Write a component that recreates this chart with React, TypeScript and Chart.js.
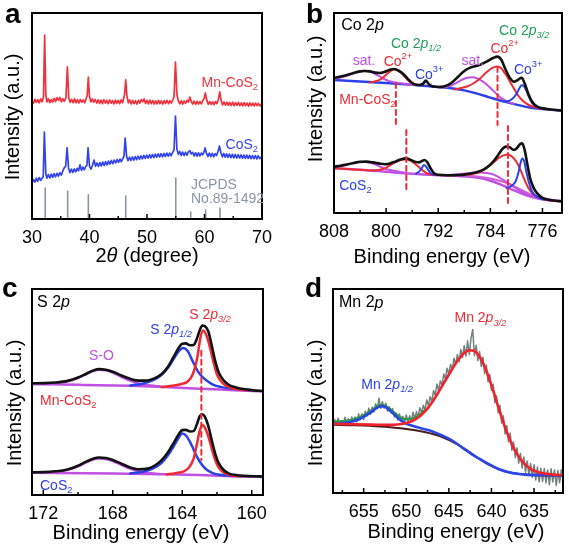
import React, { useEffect, useRef } from 'react';
import { Chart, registerables } from 'chart.js';
Chart.register(...registerables);

type P = [number, number];
type Part = [string, string];

// ---------- Panel a: XRD ----------
const aTicks = [30, 40, 50, 60, 70];
const aMinor = [35, 45, 55, 65];
const xrdMn: P[] = [
  [30.0, 57.5], [30.25, 56.2], [30.5, 58.1], [30.75, 56.6], [31.0, 57.9], [31.25, 56.4], [31.5, 58.3], [31.75, 56.9], [32.0, 59.5], [32.2, 89.3],
  [32.4, 60.0], [32.6, 56.8], [32.85, 58.4], [33.1, 56.5], [33.35, 58.0], [33.6, 56.7], [33.85, 58.6], [34.1, 57.0], [34.35, 58.9], [34.6, 57.6],
  [34.85, 59.0], [35.1, 56.9], [35.35, 58.4], [35.6, 57.1], [35.9, 58.8], [36.15, 73.8], [36.4, 58.6], [36.65, 56.6], [36.9, 58.1], [37.15, 56.5],
  [37.4, 58.3], [37.65, 56.4], [37.9, 57.9], [38.15, 56.3], [38.4, 58.0], [38.65, 56.7], [38.9, 57.8], [39.15, 56.4], [39.4, 58.2], [39.6, 60.0],
  [39.8, 68.9], [40.0, 59.5], [40.25, 56.8], [40.5, 58.3], [40.75, 56.7], [41.0, 58.0], [41.25, 56.3], [41.5, 57.8], [41.75, 56.1], [42.0, 57.7],
  [42.25, 56.0], [42.5, 57.9], [42.75, 56.3], [43.0, 57.6], [43.25, 56.0], [43.5, 57.8], [43.75, 56.2], [44.0, 57.5], [44.25, 55.9], [44.5, 57.7],
  [44.75, 56.1], [45.0, 57.6], [45.25, 56.0], [45.5, 57.8], [45.75, 56.4], [46.1, 60.5], [46.3, 67.5], [46.5, 60.0], [46.75, 56.4], [47.0, 57.8],
  [47.25, 55.9], [47.5, 57.6], [47.75, 56.0], [48.0, 57.4], [48.25, 55.8], [48.5, 57.6], [48.75, 56.2], [49.0, 58.0], [49.25, 56.9], [49.5, 58.3],
  [49.75, 56.1], [50.0, 57.6], [50.25, 55.9], [50.5, 57.7], [50.75, 56.0], [51.0, 57.5], [51.25, 55.8], [51.5, 57.4], [51.75, 55.9], [52.0, 57.6],
  [52.25, 56.0], [52.5, 57.3], [52.75, 55.8], [53.0, 57.5], [53.25, 56.1], [53.5, 57.6], [53.75, 56.0], [54.0, 57.4], [54.25, 56.3], [54.5, 57.9],
  [54.7, 59.5], [54.95, 76.2], [55.2, 60.5], [55.45, 57.3], [55.7, 55.9], [55.95, 57.4], [56.2, 55.8], [56.45, 57.3], [56.7, 56.1], [56.95, 57.6],
  [57.2, 56.8], [57.45, 59.2], [57.7, 57.0], [57.95, 55.8], [58.2, 57.2], [58.45, 55.7], [58.7, 57.1], [58.95, 55.8], [59.2, 57.0], [59.45, 55.9],
  [59.7, 57.4], [59.95, 58.6], [60.15, 61.2], [60.4, 57.6], [60.65, 55.7], [60.9, 57.0], [61.15, 55.6], [61.4, 56.9], [61.65, 55.5], [61.9, 57.0],
  [62.15, 56.0], [62.4, 58.0], [62.65, 61.7], [62.9, 57.4], [63.15, 55.4], [63.4, 56.8], [63.65, 55.3], [63.9, 56.7], [64.15, 55.2], [64.4, 56.6],
  [64.65, 55.1], [64.9, 56.7], [65.15, 55.0], [65.4, 56.5], [65.65, 55.2], [65.9, 56.6], [66.15, 55.0], [66.4, 56.4], [66.65, 54.9], [66.9, 56.5],
  [67.15, 55.0], [67.4, 56.3], [67.65, 54.8], [67.9, 56.4], [68.15, 55.0], [68.4, 56.2], [68.65, 54.9], [68.9, 56.3], [69.15, 55.0], [69.4, 56.1],
  [69.65, 54.9], [70.0, 56.0],
];
const xrdCo: P[] = [
  [30.0, 17.5], [30.25, 19.2], [30.5, 17.9], [30.75, 19.8], [31.0, 18.3], [31.25, 20.1], [31.5, 18.7], [31.75, 20.0], [31.95, 20.5], [32.15, 42.2],
  [32.4, 22.0], [32.6, 19.8], [32.85, 21.6], [33.1, 19.9], [33.35, 21.8], [33.6, 20.2], [33.85, 22.0], [34.1, 20.5], [34.35, 22.2], [34.6, 20.8],
  [34.85, 22.5], [35.1, 21.3], [35.35, 23.2], [35.6, 24.8], [35.85, 25.5], [36.1, 34.5], [36.35, 24.8], [36.6, 22.5], [36.85, 24.2], [37.1, 22.6],
  [37.35, 24.3], [37.6, 22.9], [37.85, 24.6], [38.1, 23.4], [38.35, 26.3], [38.6, 23.6], [38.85, 25.2], [39.1, 23.9], [39.35, 25.5], [39.55, 26.0],
  [39.75, 34.6], [40.0, 25.6], [40.25, 24.2], [40.5, 26.0], [40.8, 28.6], [41.05, 25.6], [41.3, 27.2], [41.55, 25.5], [41.8, 27.4], [42.05, 25.8],
  [42.3, 27.6], [42.55, 26.0], [42.8, 27.9], [43.05, 26.3], [43.3, 28.1], [43.55, 26.6], [43.8, 28.4], [44.05, 26.9], [44.3, 28.6], [44.55, 27.2],
  [44.8, 28.9], [45.05, 27.5], [45.3, 29.1], [45.55, 27.8], [45.8, 29.4], [46.0, 30.5], [46.2, 39.3], [46.45, 30.4], [46.7, 28.3], [46.95, 30.0],
  [47.2, 28.4], [47.45, 30.1], [47.7, 28.6], [47.95, 30.3], [48.2, 28.8], [48.45, 30.5], [48.7, 29.0], [48.95, 30.7], [49.2, 29.2], [49.45, 30.9],
  [49.7, 29.4], [49.95, 31.0], [50.2, 29.5], [50.45, 31.2], [50.7, 29.7], [50.95, 31.3], [51.2, 29.8], [51.45, 31.5], [51.7, 30.0], [51.95, 31.6],
  [52.2, 30.1], [52.45, 31.7], [52.7, 30.2], [52.95, 31.8], [53.2, 30.4], [53.45, 32.0], [53.7, 30.5], [53.95, 32.0], [54.2, 30.7], [54.45, 32.2],
  [54.7, 33.5], [54.95, 50.0], [55.2, 34.0], [55.45, 31.4], [55.7, 32.8], [55.95, 30.9], [56.2, 32.5], [56.45, 30.8], [56.7, 32.4], [56.95, 31.0],
  [57.2, 32.6], [57.45, 33.2], [57.7, 31.6], [57.95, 32.3], [58.2, 30.6], [58.45, 32.2], [58.7, 30.5], [58.95, 32.1], [59.2, 30.6], [59.45, 32.0],
  [59.7, 31.2], [59.95, 32.8], [60.1, 34.5], [60.35, 31.8], [60.6, 30.4], [60.85, 32.0], [61.1, 30.3], [61.35, 31.9], [61.6, 30.2], [61.85, 31.7],
  [62.1, 30.8], [62.35, 32.8], [62.6, 35.4], [62.85, 32.3], [63.1, 30.2], [63.35, 31.8], [63.6, 30.0], [63.85, 31.6], [64.1, 29.9], [64.35, 31.5],
  [64.6, 29.8], [64.85, 31.4], [65.1, 29.7], [65.35, 31.3], [65.6, 29.6], [65.85, 31.2], [66.1, 29.6], [66.35, 31.1], [66.6, 29.5], [66.85, 31.0],
  [67.1, 29.4], [67.35, 31.0], [67.6, 29.4], [67.85, 30.9], [68.1, 29.3], [68.35, 30.8], [68.6, 29.3], [68.85, 30.8], [69.1, 29.2], [69.35, 30.7],
  [69.6, 29.3], [70.0, 30.4],
];
const jcpdsPos = [32.3, 36.2, 39.8, 46.3, 55.0, 57.6, 60.2, 62.7];
const jcpdsH = [15.0, 13.6, 11.7, 11.2, 19.9, 3.4, 4.4, 5.3];

// ---------- Panel b: Co 2p ----------
const bTicks = [808, 800, 792, 784, 776];
const bMinor = [804, 796, 788, 780];
const bTopEnv: P[] = [
  [808, 67.5], [807, 68.2], [806, 69], [805, 70], [804, 70.8], [803.3, 71], [802.5, 70.8], [801.7, 70.2], [801, 70], [800.3, 70.5],
  [799.5, 71.5], [798.8, 72], [798, 71], [797.2, 69], [796.5, 66.5], [795.8, 64.6], [795, 64], [794.4, 64.4], [793.9, 66.2], [793.4, 64.3],
  [792.8, 63.2], [792, 63], [791, 63.4], [790, 65], [789, 68], [788, 71], [787, 72.8], [786.2, 73.5], [785.5, 74.2], [784.5, 75.8],
  [783.5, 77.6], [782.9, 78.2], [782.3, 76.5], [781.7, 72], [781, 67.5], [780.4, 65.7], [779.8, 66.5], [779.2, 67.6], [778.7, 64.5], [778.1, 59],
  [777.5, 55.2], [776.8, 53.2], [776, 52.4], [775, 51.9], [774, 51.5], [773, 51.2],
];
const bTopBg: P[] = [
  [808, 66.5], [804, 65.8], [800, 65], [796, 64.1], [792, 63], [790, 62.4], [788, 61.3], [786, 59.7], [784, 57.7], [782, 55.8],
  [780, 54.2], [778, 52.8], [776, 52], [773, 51.2],
];
const bTopSat1: P[] = [
  [808, 67], [807, 67.7], [806, 68.7], [805, 69.8], [804, 70.8], [803.3, 71.1], [802.5, 70.7], [801.7, 69.6], [801, 68.3], [800.3, 67],
  [799.5, 65.9], [798.5, 65.2], [797.5, 64.7], [796.5, 64.3], [795.5, 64],
];
const bTopCo2a: P[] = [
  [802.5, 65.3], [801.7, 65.8], [801, 66.6], [800.3, 68.2], [799.6, 70.3], [799, 71.6], [798.7, 71.9], [798.2, 71.4], [797.6, 69.8], [797, 67.6],
  [796.4, 65.7], [795.8, 64.6], [795, 64],
];
const bTopCo3a: P[] = [
  [795.2, 63.9], [794.6, 64.3], [794.2, 65.1], [793.9, 65.6], [793.6, 65.0], [793.2, 63.9], [792.7, 63.2],
];
const bTopSat2: P[] = [
  [791.5, 62.7], [790.5, 63.2], [789.5, 64.6], [788.5, 66.4], [787.7, 67.5], [786.8, 67.9], [786, 67.3], [785.2, 65.8], [784.4, 63.8], [783.6, 61.3],
  [782.8, 58.8], [782, 56.8], [781.2, 55.4], [780.4, 54.6],
];
const bTopCo2b: P[] = [
  [789.5, 61.8], [788.5, 62.5], [787.5, 63.4], [786.5, 65], [785.5, 67.5], [784.6, 70.4], [783.7, 72.6], [783, 73.3], [782.4, 72.6], [781.7, 69.6],
  [781, 65.8], [780.3, 61.8], [779.6, 58.2], [778.9, 55.8], [778.1, 54], [777.3, 53], [776.3, 52.3], [775.3, 52],
];
const bTopCo3b: P[] = [
  [782, 55.8], [781.2, 56], [780.5, 57.5], [780, 59.5], [779.6, 62], [779.2, 63.9], [778.9, 63.6], [778.5, 61.5], [778.1, 58.2], [777.6, 55],
  [777, 53.2], [776.2, 52.4], [775.3, 52],
];
const bBotEnv: P[] = [
  [808, 23.2], [807, 23.6], [806, 24.3], [805, 25], [804, 25.6], [803, 25.7], [802, 25.3], [801, 24.7], [800.2, 24.4], [799.4, 24.8],
  [798.6, 25.7], [797.8, 26.7], [797, 27.3], [796.3, 26.7], [795.6, 25.6], [795, 25.3], [794.5, 26], [794.1, 26.5], [793.7, 25.5], [793.2, 22.5],
  [792.6, 19.7], [792, 19.1], [790.5, 18.9], [789, 19], [788, 19.2], [787, 19.7], [786, 20.5], [785, 21.8], [784.2, 23.6], [783.5, 26],
  [782.8, 29], [782.2, 31.8], [781.6, 33.2], [781, 32.8], [780.4, 31.5], [779.9, 32.5], [779.4, 34.6], [779.1, 34.8], [778.7, 31], [778.3, 24],
  [777.9, 17.5], [777.4, 12.8], [776.8, 9.8], [776, 7.6], [775, 6.6], [774, 6.1], [773, 5.9],
];
const bBotBg1: P[] = [
  [808, 22.4], [804, 21.6], [800, 20.6], [796, 19.6], [792, 18.9], [789, 18.5], [787, 18.1], [785, 17.1], [783, 15], [781, 12.2],
  [779, 9.5], [777, 7.5], [775, 6.4], [773, 5.9],
];
const bBotBg2: P[] = [
  [790, 18.9], [788, 18.8], [786, 18.3], [784, 17.3], [782, 15.6], [780, 12.8], [778, 9.6], [776, 7.4], [774, 6.3], [773, 6],
];
const bBotSat1: P[] = [
  [808, 23], [807, 23.5], [806, 24.2], [805, 24.9], [804, 25.4], [803.2, 25.5], [802.4, 25.1], [801.6, 24.2], [800.8, 23], [800, 22],
  [799, 21.2], [798, 20.6], [797, 20.1],
];
const bBotCo2a: P[] = [
  [808, 22.4], [806, 22], [804, 21.6], [802.5, 21.3], [801.5, 21.4], [800.5, 22], [799.7, 23.2], [798.9, 24.8], [798.1, 26.1], [797.3, 26.8],
  [796.8, 26.8], [796.2, 26.1], [795.5, 24.4], [794.8, 22.4], [794.1, 20.6], [793.4, 19.5], [792.6, 19],
];
const bBotCo3a: P[] = [
  [795.4, 19.7], [794.9, 20.8], [794.5, 22.6], [794.2, 24], [793.9, 23.4], [793.5, 21.4], [793.1, 19.8], [792.6, 19.1],
];
const bBotSat2: P[] = [
  [791.5, 18.9], [790, 19.1], [788.5, 19.5], [787, 20], [785.5, 20.3], [784.5, 20], [783.5, 19.2], [782.5, 17.5], [781.5, 15.5], [780.5, 13.3],
  [779.5, 11.2], [778.5, 9.5], [777.5, 8.2], [776.5, 7.2], [775, 6.4], [773, 5.9],
];
const bBotCo2b: P[] = [
  [791, 18.8], [789, 18.9], [787.5, 19.2], [786.2, 19.8], [785.2, 21.2], [784.3, 23.2], [783.5, 25.3], [782.7, 27.5], [782, 28.8], [781.3, 29.2],
  [780.7, 28.3], [780, 25.6], [779.4, 21.7], [778.8, 17], [778.2, 12.8], [777.6, 10], [777, 8.4], [776.2, 7.2], [775.3, 6.5], [774, 6],
];
const bBotCo3b: P[] = [
  [781.5, 12.5], [780.7, 13.6], [780.1, 16], [779.7, 20], [779.4, 24.5], [779.1, 27.2], [778.8, 25.8], [778.5, 21], [778.1, 15.5], [777.7, 11.5],
  [777.2, 9], [776.5, 7.5], [775.5, 6.6],
];
// dashed guides: [energy, from, to]
const bDashes: [number, number, number][] = [
  [798.5, 65, 43], [782.9, 73, 44], [796.9, 41.5, 10.7], [781.3, 43.5, 4.8],
];

// ---------- Panel c: S 2p ----------
const cTicks = [172, 168, 164, 160];
const cMinor = [170, 166, 162];
const cTopEnv: P[] = [
  [172.65, 54.2], [172, 54.3], [171.3, 54.6], [170.6, 55.4], [170, 57], [169.5, 59], [169.1, 60.5], [168.8, 61.1], [168.4, 60.8], [168, 59.8],
  [167.5, 58], [167, 56.4], [166.5, 55.5], [166, 55.6], [165.6, 56.6], [165.2, 58.6], [164.8, 62.5], [164.5, 67], [164.2, 71.5], [164, 73.4],
  [163.8, 73.6], [163.55, 72.7], [163.35, 72.8], [163.15, 76], [163, 79.8], [162.85, 82.3], [162.7, 82], [162.5, 79.5], [162.3, 72.5], [162.1, 65],
  [161.9, 59.5], [161.6, 55.5], [161.3, 53.4], [160.9, 52.2], [160.4, 51.3], [159.9, 50.8], [159.35, 50.5],
];
const cTopBg: P[] = [[172.65, 53.8], [170, 53.5], [167, 53], [165, 52.4], [163, 51.6], [161, 50.9], [159.35, 50.3]];
const cTopSO: P[] = [
  [171.8, 53.9], [171.2, 54.3], [170.6, 55.2], [170, 56.8], [169.5, 58.8], [169.1, 60.3], [168.8, 60.8], [168.4, 60.5], [168, 59.4], [167.5, 57.4],
  [167, 55.5], [166.5, 54.1], [166, 53.3], [165.3, 52.8],
];
const cTopS12: P[] = [
  [167, 53.1], [166.3, 54], [165.7, 55.6], [165.2, 58.2], [164.8, 62], [164.5, 66], [164.2, 69.8], [163.95, 71.3], [163.7, 70], [163.4, 65],
  [163.1, 60], [162.8, 57], [162.5, 55], [162.2, 53.5], [161.8, 52.5], [161.3, 51.8], [160.7, 51.3], [160, 51],
];
const cTopS32: P[] = [
  [165.2, 52.4], [164.6, 53], [164.1, 53.8], [163.7, 55], [163.4, 58.5], [163.15, 66], [162.95, 76.5], [162.8, 79.8], [162.6, 77.3], [162.4, 71.5],
  [162.2, 64.5], [162, 58.5], [161.7, 54.5], [161.3, 52.3], [160.8, 51.3], [160.2, 50.8],
];
const cBotEnv: P[] = [
  [172.65, 11], [172, 11.1], [171.3, 11.5], [170.6, 12.4], [170, 14.2], [169.5, 16.3], [169.1, 17.7], [168.8, 18.2], [168.4, 18], [168, 17],
  [167.5, 15.2], [167, 13.4], [166.5, 12.5], [166, 12.8], [165.6, 14.2], [165.2, 16.8], [164.8, 21], [164.5, 25.2], [164.2, 29.5], [164, 31.5],
  [163.8, 31.6], [163.55, 30.8], [163.35, 31], [163.15, 34.5], [163, 38.2], [162.85, 39.2], [162.7, 38], [162.5, 33.5], [162.3, 26.5], [162.1, 20],
  [161.9, 15.5], [161.6, 12], [161.3, 10.4], [160.9, 9.7], [160.4, 9.3], [159.9, 9.1], [159.35, 9],
];
const cBotBg: P[] = [[172.65, 10.8], [168, 10.4], [165, 10.1], [163, 9.7], [161, 9.1], [159.35, 8.7]];
const cBotSO: P[] = [
  [171.8, 10.9], [171.2, 11.3], [170.6, 12.2], [170, 13.9], [169.5, 16], [169.1, 17.3], [168.8, 17.7], [168.4, 17.5], [168, 16.5], [167.5, 14.6],
  [167, 12.8], [166.5, 11.5], [166, 10.7], [165.3, 10.2],
];
const cBotS12: P[] = [
  [167, 10.4], [166.3, 11.2], [165.7, 12.8], [165.2, 15.5], [164.8, 19.5], [164.5, 23.5], [164.2, 27.8], [164, 29.8], [163.75, 28.5], [163.45, 24],
  [163.15, 18.5], [162.85, 14.5], [162.55, 12], [162.2, 10.5], [161.8, 9.8], [161.3, 9.4], [160.5, 9.1],
];
const cBotS32: P[] = [
  [164.9, 10], [164.4, 10.6], [163.9, 11.5], [163.6, 13.5], [163.35, 17.5], [163.15, 25], [163, 31], [162.85, 34], [162.7, 32.8], [162.5, 28.5],
  [162.3, 22.5], [162.1, 17], [161.9, 13.3], [161.6, 10.8], [161.2, 9.6], [160.6, 9.1],
];
const cDashes: [number, number, number][] = [[162.9, 70, 17]];

// ---------- Panel d: Mn 2p ----------
const dTicks = [655, 650, 645, 640, 635];
const dMinor = [657.5, 652.5, 647.5, 642.5, 637.5, 632.5];
const dRaw: P[] = [
  [658.6, 33.0], [658.4, 36.0], [658.2, 33.7], [658.0, 36.6], [657.8, 33.7], [657.6, 35.5], [657.4, 33.4], [657.2, 37.1], [657.0, 34.3], [656.8, 36.4],
  [656.6, 33.8], [656.4, 37.3], [656.2, 34.9], [656.0, 37.3], [655.8, 34.8], [655.6, 38.8], [655.4, 36.0], [655.2, 38.7], [655.0, 36.0], [654.8, 40.1],
  [654.6, 37.8], [654.4, 41.6], [654.2, 38.6], [654.0, 42.1], [653.8, 39.7], [653.6, 43.7], [653.4, 41.5], [653.2, 46.5], [653.0, 41.5], [652.8, 44.8],
  [652.6, 41.7], [652.4, 44.0], [652.2, 40.1], [652.0, 42.3], [651.8, 39.2], [651.6, 41.4], [651.4, 37.2], [651.2, 39.2], [651.0, 35.8], [650.8, 38.8],
  [650.6, 35.2], [650.4, 37.6], [650.2, 34.6], [650.0, 38.3], [649.8, 35.1], [649.6, 37.9], [649.4, 35.2], [649.2, 39.6], [649.0, 36.4], [648.8, 39.9],
  [648.6, 37.2], [648.4, 41.8], [648.2, 39.2], [648.0, 43.0], [647.8, 40.6], [647.6, 45.6], [647.4, 42.9], [647.2, 47.2], [647.0, 44.8], [646.8, 50.2],
  [646.6, 47.9], [646.4, 53.4], [646.2, 50.4], [646.0, 55.0], [645.8, 52.6], [645.6, 58.3], [645.4, 55.9], [645.2, 61.2], [645.0, 58.0], [644.8, 63.1],
  [644.6, 60.3], [644.4, 66.1], [644.2, 63.0], [644.0, 67.9], [643.8, 64.3], [643.6, 70.4], [643.4, 66.4], [643.2, 72.2], [643.0, 67.1], [642.8, 74.6],
  [642.6, 67.9], [642.4, 75.7], [642.2, 80.2], [642.0, 67.3], [641.8, 72.4], [641.6, 64.9], [641.4, 69.4], [641.2, 62.0], [641.0, 66.6], [640.8, 58.6],
  [640.6, 62.8], [640.4, 54.5], [640.2, 58.1], [640.0, 50.4], [639.8, 53.3], [639.6, 44.3], [639.4, 47.5], [639.2, 39.3], [639.0, 42.9], [638.8, 34.3],
  [638.6, 37.8], [638.4, 28.9], [638.2, 33.0], [638.0, 25.1], [637.8, 29.3], [637.6, 20.9], [637.4, 25.0], [637.2, 17.3], [637.0, 22.2], [636.8, 14.6],
  [636.6, 19.4], [636.4, 12.2], [636.2, 17.7], [636.0, 10.2], [635.8, 15.7], [635.6, 8.6], [635.4, 14.4], [635.2, 7.7], [635.0, 13.8], [634.8, 6.4],
  [634.6, 12.7], [634.4, 5.4], [634.2, 12.1], [634.0, 5.7], [633.8, 12.0], [633.6, 4.9], [633.4, 11.3], [633.2, 4.1], [633.0, 11.9], [632.8, 5.4],
  [632.6, 11.3], [632.4, 3.7], [632.2, 11.0], [632.0, 5.0], [631.8, 11.4], [631.6, 6.8],
];
const dBg: P[] = [
  [658.6, 33.4], [656, 33.2], [653, 32.6], [650, 31.4], [648, 30], [646, 27.8], [644, 23.8], [642, 18.4], [640.5, 14.3], [639, 11.4],
  [637.5, 9.8], [636, 9.1], [634, 8.7], [631.6, 8.5],
];
const dBlue: P[] = [
  [658.6, 33.8], [657.5, 34.2], [656.5, 34.9], [655.6, 36], [654.8, 37.8], [654, 40], [653.4, 41.9], [652.9, 42.6], [652.4, 42], [651.9, 40.4],
  [651.3, 38], [650.7, 35.8], [650.1, 34.2], [649.3, 33], [648.3, 31.8], [647, 30.3], [646, 28.6], [645, 26.6], [644, 24], [643, 21],
  [642, 18.2], [641, 15.8], [640, 13.5], [639, 11.5], [638, 10.2], [637, 9.4], [636, 9], [634, 8.7], [631.6, 8.5],
];
const dRed: P[] = [
  [658.6, 33.9], [656.5, 33.7], [654, 33.5], [652, 33.4], [650.8, 33.7], [650, 34.3], [649.3, 35.3], [648.6, 37], [648, 39.2], [647.4, 42],
  [646.8, 45.5], [646.2, 49.5], [645.6, 53.8], [645, 58], [644.4, 62.2], [643.8, 65.8], [643.2, 68.6], [642.6, 70], [642, 69.6], [641.5, 67.5],
  [641, 63.8], [640.5, 58.8], [640, 52.8], [639.5, 46.2], [639, 39.6], [638.5, 33.4], [638, 27.8], [637.5, 23], [637, 19.2], [636.5, 16.1],
  [636, 13.8], [635.3, 11.6], [634.6, 10.3], [633.8, 9.5], [632.8, 9], [631.6, 8.8],
];
const dGreen: P[] = [
  [658.6, 34.8], [657.5, 35.3], [656.5, 35.8], [655.6, 37], [654.8, 38.6], [654, 40.8], [653.4, 42.6], [652.9, 43.2], [652.4, 42.6], [651.9, 41.2],
  [651.3, 39], [650.7, 37.2], [650.1, 36.2], [649.5, 36.3], [648.9, 37.2], [648.3, 38.8], [647.7, 41],
];

// ---------- rendering ----------
const FONT = '"Liberation Sans", Arial, Helvetica, sans-serif';
const RED = '#ee2a33';
const BLUE = '#2b40e6';
const PURPLE = '#c150e4';
const GREEN = '#1f9d55';
const BLACK = '#121212';

interface Ann { x: number; y: number; parts: Part[]; color: string; size?: number; align?: 'left' | 'center' | 'right' }
interface Series { data: ({ x: number; y: number | null })[]; color: string; width: number; smooth?: boolean; dash?: number[] }
interface PanelCfg {
  left: number; top: number; w: number; h: number;
  box: [number, number, number, number];
  xMin: number; xMax: number; reverse: boolean;
  ticks: number[]; minor: number[];
  series: Series[];
  anns: Ann[];
  letter: [string, number, number];
  yTitle: [number, number];
  xTitle: { parts: Part[]; x: number; y: number };
}

const pts = (a: P[]) => a.map(([x, y]) => ({ x, y }));
const S = (a: P[], color: string, width = 2, smooth = true): Series => ({ data: pts(a), color, width, smooth });
const dashes = (d: [number, number, number][]): Series => {
  const data: { x: number; y: number | null }[] = [];
  d.forEach(([x, y0, y1]) => { data.push({ x, y: y0 }, { x, y: y1 }, { x, y: null }); });
  return { data, color: RED, width: 2, dash: [5, 4] };
};

function drawRich(ctx: CanvasRenderingContext2D, x: number, y: number, parts: Part[], size: number, color: string, align: string) {
  let w = 0;
  const segs = parts.map(([t, s]) => {
    const small = s.includes('sub') || s.includes('sup');
    const fs = small ? size * 0.66 : size;
    const italic = s.includes('i');
    const font = `${italic ? 'italic ' : ''}${fs}px ${FONT}`;
    ctx.font = font;
    const mw = ctx.measureText(t).width;
    const dy = s.includes('sub') ? size * 0.32 : s.includes('sup') ? -size * 0.38 : 0;
    w += mw;
    return { t, font, mw, dy };
  });
  let cx = align === 'left' ? x : align === 'center' ? x - w / 2 : x - w;
  ctx.fillStyle = color;
  ctx.textBaseline = 'middle';
  ctx.textAlign = 'left';
  for (const s of segs) {
    ctx.font = s.font;
    ctx.fillText(s.t, cx, y + s.dy);
    cx += s.mw;
  }
}

function Panel({ cfg }: { cfg: PanelCfg }) {
  const ref = useRef<HTMLCanvasElement>(null);
  useEffect(() => {
    const c = cfg;
    const [bl, bt, br, bb] = c.box;
    const datasets = c.series.slice().reverse().map((s) => ({
      data: s.data,
      borderColor: s.color,
      borderWidth: s.width,
      borderDash: s.dash || [],
      pointRadius: 0,
      fill: false,
      tension: 0,
      cubicInterpolationMode: s.smooth ? 'monotone' : 'default',
      spanGaps: false,
      borderCapStyle: 'round',
      borderJoinStyle: 'round',
    }));
    const deco = {
      id: 'deco',
      afterDraw(chart: any) {
        const { ctx, chartArea: a, scales } = chart;
        const xs = scales.x, ys = scales.y;
        ctx.save();
        ctx.strokeStyle = '#000';
        ctx.lineWidth = 2;
        ctx.strokeRect(a.left, a.top, a.right - a.left, a.bottom - a.top);
        ctx.lineWidth = 1.5;
        ctx.beginPath();
        for (const v of c.ticks) { const px = xs.getPixelForValue(v); ctx.moveTo(px, a.bottom); ctx.lineTo(px, a.bottom - 5); }
        for (const v of c.minor) { const px = xs.getPixelForValue(v); ctx.moveTo(px, a.bottom); ctx.lineTo(px, a.bottom - 3); }
        ctx.stroke();
        for (const an of c.anns) {
          drawRich(ctx, xs.getPixelForValue(an.x), ys.getPixelForValue(an.y), an.parts, an.size ?? 14, an.color, an.align ?? 'center');
        }
        ctx.fillStyle = '#000';
        ctx.font = `bold 28px ${FONT}`;
        ctx.textBaseline = 'alphabetic';
        ctx.textAlign = 'left';
        ctx.fillText(c.letter[0], c.letter[1], c.letter[2]);
        ctx.save();
        ctx.translate(c.yTitle[0], c.yTitle[1]);
        ctx.rotate(-Math.PI / 2);
        ctx.font = `20px ${FONT}`;
        ctx.textAlign = 'center';
        ctx.textBaseline = 'middle';
        ctx.fillText('Intensity (a.u.)', 0, 0);
        ctx.restore();
        drawRich(ctx, c.xTitle.x, c.xTitle.y, c.xTitle.parts, 20, '#000', 'center');
        ctx.restore();
      },
    };
    const chart = new Chart(ref.current as HTMLCanvasElement, {
      type: 'line',
      data: { datasets: datasets as any },
      options: {
        responsive: false,
        maintainAspectRatio: false,
        animation: false,
        events: [],
        layout: { padding: { left: bl, top: bt, right: c.w - br, bottom: 0 } },
        plugins: { legend: { display: false }, tooltip: { enabled: false } },
        scales: {
          x: {
            type: 'linear', min: c.xMin, max: c.xMax, reverse: c.reverse,
            grid: { display: false, drawTicks: false },
            border: { display: false },
            ticks: { font: { size: 18, family: FONT }, color: '#000', padding: 8, maxRotation: 0, minRotation: 0, autoSkip: false },
            afterBuildTicks: (s: any) => { s.ticks = c.ticks.map((v) => ({ value: v })); },
            afterFit: (s: any) => { s.height = c.h - bb; },
          },
          y: { type: 'linear', display: false, min: 0, max: 100 },
        },
      } as any,
      plugins: [deco],
    });
    return () => chart.destroy();
  }, [cfg]);
  return (
    <canvas ref={ref} width={cfg.w} height={cfg.h}
      style={{ position: 'absolute', left: cfg.left, top: cfg.top, width: cfg.w, height: cfg.h }} />
  );
}

const sticks: Series = (() => {
  const data: { x: number; y: number | null }[] = [];
  jcpdsPos.forEach((x, i) => { data.push({ x, y: 0 }, { x, y: jcpdsH[i] }, { x, y: null }); });
  return { data, color: '#8796a5', width: 1.6 };
})();

const panels: PanelCfg[] = [
  {
    left: 0, top: 0, w: 285, h: 275, box: [32, 13, 262, 219],
    xMin: 30, xMax: 70, reverse: false, ticks: aTicks, minor: aMinor,
    series: [sticks, S(xrdCo, '#3343ee', 1.7, false), S(xrdMn, '#f0323c', 1.7, false)],
    anns: [
      { x: 69.3, y: 66, parts: [['Mn-CoS', ''], ['2', 'sub']], color: '#f0323c', align: 'right' },
      { x: 69.3, y: 35.9, parts: [['CoS', ''], ['2', 'sub']], color: '#3343ee', align: 'right' },
      { x: 57.65, y: 16.5, parts: [['JCPDS', '']], color: '#8796a5', align: 'left' },
      { x: 57.65, y: 9.7, parts: [['No.89-1492', '']], color: '#8796a5', align: 'left' },
    ],
    letter: ['a', 5, 23], yTitle: [13, 117],
    xTitle: { parts: [['2', ''], ['θ', 'i'], [' (degree)', '']], x: 147, y: 256 },
  },
  {
    left: 284, top: 0, w: 285, h: 275, box: [50, 13, 278, 213],
    xMin: 773, xMax: 808, reverse: true, ticks: bTicks, minor: bMinor,
    series: [
      S(bTopBg, BLUE, 2.5), S(bTopSat1, PURPLE), S(bTopCo2a, RED), S(bTopCo3a, BLUE),
      S(bTopSat2, PURPLE), S(bTopCo2b, RED), S(bTopCo3b, BLUE), S(bTopEnv, BLACK, 2.6),
      S(bBotBg1, PURPLE, 2.5), S(bBotBg2, '#d05fd8', 2), S(bBotSat1, PURPLE), S(bBotCo2a, RED), S(bBotCo3a, BLUE),
      S(bBotSat2, PURPLE), S(bBotCo2b, RED), S(bBotCo3b, BLUE), S(bBotEnv, BLACK, 2.6),
      dashes(bDashes),
    ],
    anns: [
      { x: 806.9, y: 93.5, parts: [['Co 2', ''], ['p', 'i']], color: '#000', size: 16, align: 'left' },
      { x: 795.4, y: 84.5, parts: [['Co 2', ''], ['p', 'i'], ['1/2', 'isub']], color: GREEN },
      { x: 778.8, y: 91, parts: [['Co 2', ''], ['p', 'i'], ['3/2', 'isub']], color: GREEN },
      { x: 803.4, y: 76, parts: [['sat.', '']], color: PURPLE },
      { x: 798.2, y: 75.5, parts: [['Co', ''], ['2+', 'sup']], color: RED },
      { x: 793.4, y: 69, parts: [['Co', ''], ['3+', 'sup']], color: BLUE },
      { x: 786.7, y: 76, parts: [['sat.', '']], color: PURPLE },
      { x: 781.8, y: 82, parts: [['Co', ''], ['2+', 'sup']], color: RED },
      { x: 778.2, y: 71.5, parts: [['Co', ''], ['3+', 'sup']], color: BLUE },
      { x: 807.2, y: 56.5, parts: [['Mn-CoS', ''], ['2', 'sub']], color: RED, align: 'left' },
      { x: 807.2, y: 13.5, parts: [['CoS', ''], ['2', 'sub']], color: BLUE, align: 'left' },
    ],
    letter: ['b', 22, 23], yTitle: [32, 99],
    xTitle: { parts: [['Binding energy (eV)', '']], x: 158, y: 257 },
  },
  {
    left: 0, top: 275, w: 285, h: 275, box: [32, 14, 263, 220],
    xMin: 159.35, xMax: 172.65, reverse: true, ticks: cTicks, minor: cMinor,
    series: [
      S(cTopBg, PURPLE, 2.5), S(cTopSO, PURPLE, 2.5), S(cTopS12, BLUE, 2.5), S(cTopS32, RED, 2.5), S(cTopEnv, BLACK, 2.6),
      S(cBotBg, PURPLE, 2.5), S(cBotSO, PURPLE, 2.5), S(cBotS12, BLUE, 2.5), S(cBotS32, RED, 2.5), S(cBotEnv, BLACK, 2.6),
      dashes(cDashes),
    ],
    anns: [
      { x: 172.36, y: 93.2, parts: [['S 2', ''], ['p', 'i']], color: '#000', size: 16, align: 'left' },
      { x: 164.64, y: 80.2, parts: [['S 2', ''], ['p', 'i'], ['1/2', 'isub']], color: BLUE },
      { x: 162.4, y: 87.5, parts: [['S 2', ''], ['p', 'i'], ['3/2', 'isub']], color: RED },
      { x: 168.65, y: 67.2, parts: [['S-O', '']], color: PURPLE },
      { x: 172.19, y: 45.6, parts: [['Mn-CoS', ''], ['2', 'sub']], color: RED, align: 'left' },
      { x: 172.19, y: 4.4, parts: [['CoS', ''], ['2', 'sub']], color: BLUE, align: 'left' },
    ],
    letter: ['c', 2, 22], yTitle: [15, 128],
    xTitle: { parts: [['Binding energy (eV)', '']], x: 141, y: 258 },
  },
  {
    left: 284, top: 275, w: 285, h: 275, box: [49, 14, 279, 218],
    xMin: 631.6, xMax: 658.6, reverse: true, ticks: dTicks, minor: dMinor,
    series: [
      S(dRaw, '#74807d', 1.5, false), S(dGreen, '#2a9a45', 2.2), S(dBg, '#4a1c1c', 2), S(dBlue, '#2b45e8', 2.6), S(dRed, '#f2222c', 2.6),
    ],
    anns: [
      { x: 657.9, y: 93.1, parts: [['Mn 2', ''], ['p', 'i']], color: '#000', size: 16, align: 'left' },
      { x: 641.3, y: 85.5, parts: [['Mn 2', ''], ['p', 'i'], ['3/2', 'isub']], color: RED },
      { x: 652.25, y: 53, parts: [['Mn 2', ''], ['p', 'i'], ['1/2', 'isub']], color: BLUE },
    ],
    letter: ['d', 21, 22], yTitle: [32, 128],
    xTitle: { parts: [['Binding energy (eV)', '']], x: 172, y: 257 },
  },
];

export default function App() {
  return (
    <div style={{ position: 'fixed', left: 0, top: 0, width: 569, height: 550, background: '#fff' }}>
      {panels.map((p, i) => <Panel key={i} cfg={p} />)}
    </div>
  );
}
